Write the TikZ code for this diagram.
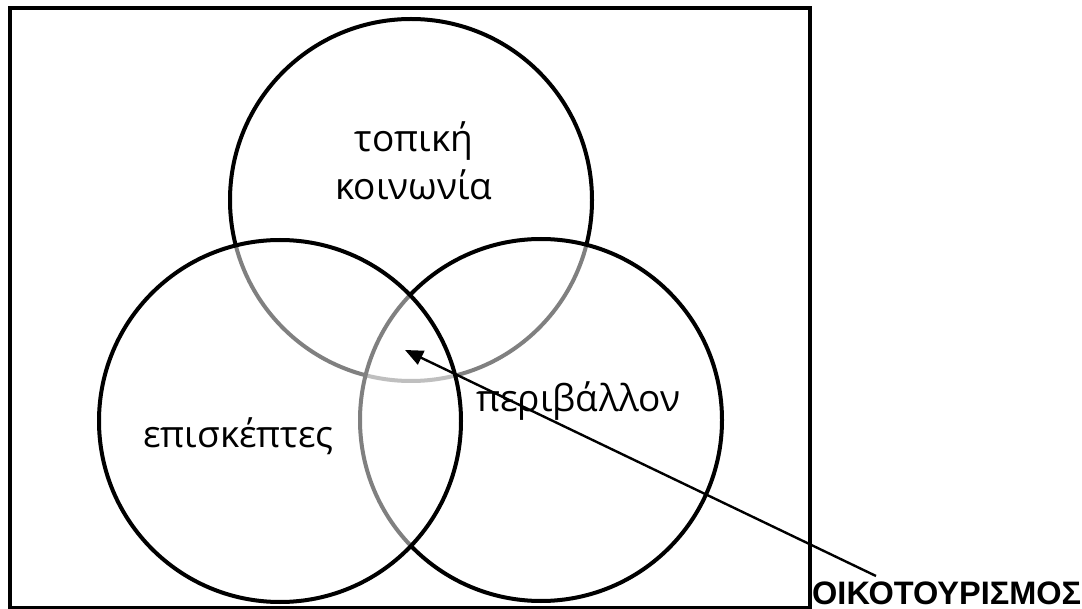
\documentclass[tikz,border=0pt]{standalone}
\usepackage{fontspec}
\setmainfont{Open Sans}
\newfontfamily\ecofont{Liberation Sans}
\usetikzlibrary{arrows.meta}
\begin{document}
\begin{tikzpicture}[x=1pt,y=-1pt,
  venn/.style={circle, draw=black, line width=4pt, minimum size=362pt, inner sep=0pt,
               fill=white, fill opacity=0.5, draw opacity=1},
  lbl/.style={font=\fontsize{37}{48}\selectfont, align=center, text=black, inner sep=0pt},
  ecolbl/.style={font=\ecofont\bfseries\fontsize{32.5}{36}\selectfont, inner sep=0pt},
  pointer/.style={line width=2.4pt, -{Triangle[length=18pt,width=15pt]}}
]
\useasboundingbox (0,0) rectangle (1082,609);
\draw[line width=3.6pt] (10,8) rectangle (810,608);
\node[venn] (comm) at (411,200) {};
\node[venn] (env) at (541,420) {};
\node[venn] (vis) at (280,421) {};
\node[lbl, anchor=base] (commtxt) at (414,200) {τοπική\\κοινωνία};
\node[lbl, anchor=base west] (envtxt) at (476,412) {περιβάλλον};
\node[lbl, anchor=base west] (vistxt) at (143,447) {επισκέπτες};
\node[ecolbl, anchor=base west] (eco) at (812,604) {ΟΙΚΟΤΟΥΡΙΣΜΟΣ};
\coordinate (tail) at (876,576);
\coordinate (tip) at (405,350);
\draw[pointer] (tail) -- (tip);
\end{tikzpicture}
\end{document}
